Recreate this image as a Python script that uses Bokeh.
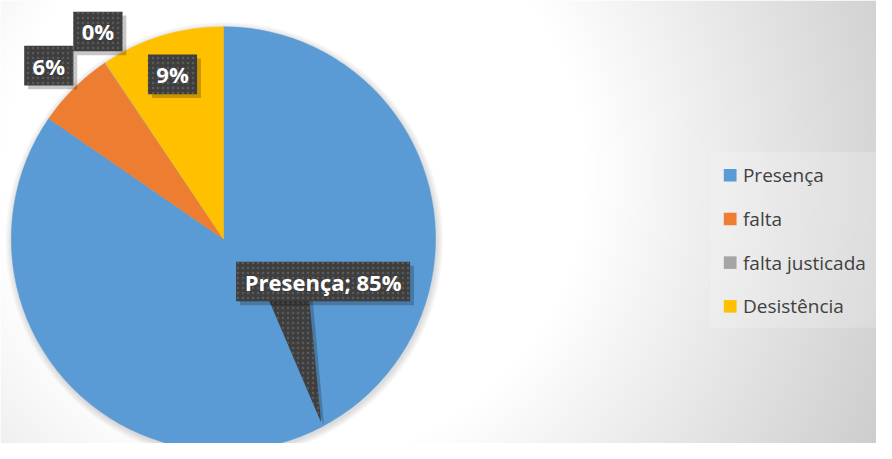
import numpy as np
from bokeh.plotting import figure
from bokeh.models import Range1d, ColumnDataSource
from bokeh.core.properties import value
from bokeh.embed import file_html
from bokeh.resources import INLINE

# ---- data ----
categories = ["Presença", "falta", "falta justicada", "Desistência"]
percentages = [84.6, 5.95, 0.05, 9.4]
colors = ["#5B9BD5", "#ED7D31", "#A5A5A5", "#FFC000"]

W, H = 876, 443
RW, RH = 892, 459  # reference coordinate space
p = figure(width=W, height=H, output_backend="svg", toolbar_location=None,
           x_range=Range1d(0, RW), y_range=Range1d(0, RH),
           x_axis_location=None, y_axis_location=None, min_border=0)
p.grid.visible = False
p.outline_line_color = None
p.background_fill_color = "#ffffff"
p.border_fill_color = "#ffffff"

def sy(Y):  # reference screen y -> data y
    return RH - Y

# ---- background radial gradient ----
jj = (np.arange(W) + 0.5) * RW / W
scr_y = RH - (np.arange(H) + 0.5) * RH / H  # row 0 = bottom of plot
XX, YY = np.meshgrid(jj, scr_y)
r = np.sqrt((XX - 300) ** 2 + (YY - 180) ** 2)
v = np.clip(255 - 0.14 * np.maximum(0, r - 300), 197, 255).astype(np.uint32)
img = (255 << 24) | (v << 16) | (v << 8) | v
p.image_rgba(image=[img.astype(np.uint32)], x=0, y=0, dw=RW, dh=RH)

# ---- pie ----
cx, cy, R = 227, sy(247), 216
frac = np.array(percentages) / sum(percentages)
cum = np.concatenate([[0], np.cumsum(frac)])
starts = np.pi / 2 - 2 * np.pi * cum[:-1]
ends = np.pi / 2 - 2 * np.pi * cum[1:]
mids = (starts + ends) / 2

for k in range(1, 8):
    p.circle(x=cx + 1, y=cy - 2, radius=R + k, fill_color="black", fill_alpha=0.02, line_color=None)

src = ColumnDataSource(dict(start=starts, end=ends, color=colors, cat=categories))
p.wedge(x=cx, y=cy, radius=R, start_angle="start", end_angle="end", direction="clock",
        fill_color="color", line_color="color", line_width=0.5, source=src)

# ---- data labels ----
labels = [f"{c}; {round(v_)}%" if i == 0 else f"{round(v_)}%" for i, (c, v_) in enumerate(zip(categories, percentages))]
label_r = [0.0, 1.17, 1.16, 0.825]
label_nudge = [(0, 0), (0, 0), (12, 7), (0, 0)]
box_fill = "#3e3e3e"
hatch = dict(hatch_pattern="dot", hatch_color="#5a5a5a", hatch_scale=5, hatch_weight=1)
for i, txt in enumerate(labels):
    bw = max(50, 12.4 * len(txt) + 16)
    bh = 41
    if i == 0:
        tipx = cx + R * np.cos(mids[i]) - 1
        tipy = cy + R * np.sin(mids[i]) + 1
        lx, ly = tipx + 2, tipy + 146
        p.patch(x=[lx - 59 + 4, lx - 15 + 4, tipx + 3], y=[ly - 10 - 4, ly - 10 - 4, tipy - 3],
                fill_color="black", fill_alpha=0.22, line_color=None)
        p.patch(x=[lx - 59, lx - 15, tipx], y=[ly - 10, ly - 10, tipy],
                fill_color=box_fill, line_color=None, **hatch)
    else:
        lx = cx + label_r[i] * R * np.cos(mids[i]) + label_nudge[i][0]
        ly = cy + label_r[i] * R * np.sin(mids[i]) + label_nudge[i][1]
    p.rect(x=lx + 4, y=ly - 4, width=bw, height=bh, fill_color="black", fill_alpha=0.22, line_color=None)
    p.rect(x=lx, y=ly, width=bw, height=bh, fill_color=box_fill, line_color=None, **hatch)
    p.text(x=[lx], y=[ly], text=[txt], text_align="center", text_baseline="middle",
           text_color="white", text_font=value("Open Sans"), text_font_style="bold",
           text_font_size="22px")

# ---- legend ----
p.quad(left=723, right=RW, top=sy(157), bottom=sy(339), fill_color="white", fill_alpha=0.2, line_color=None)
leg_y = [sy(181 + 45.3 * i) for i in range(len(categories))]
p.rect(x=[743] * len(categories), y=leg_y, width=13, height=13, fill_color=colors, line_color=None)
p.text(x=[756] * len(categories), y=leg_y, text=categories, text_align="left", text_baseline="middle",
       text_color="#404040", text_font=value("Open Sans"), text_font_size="19px")

open("out.html", "w").write(file_html(p, INLINE))
